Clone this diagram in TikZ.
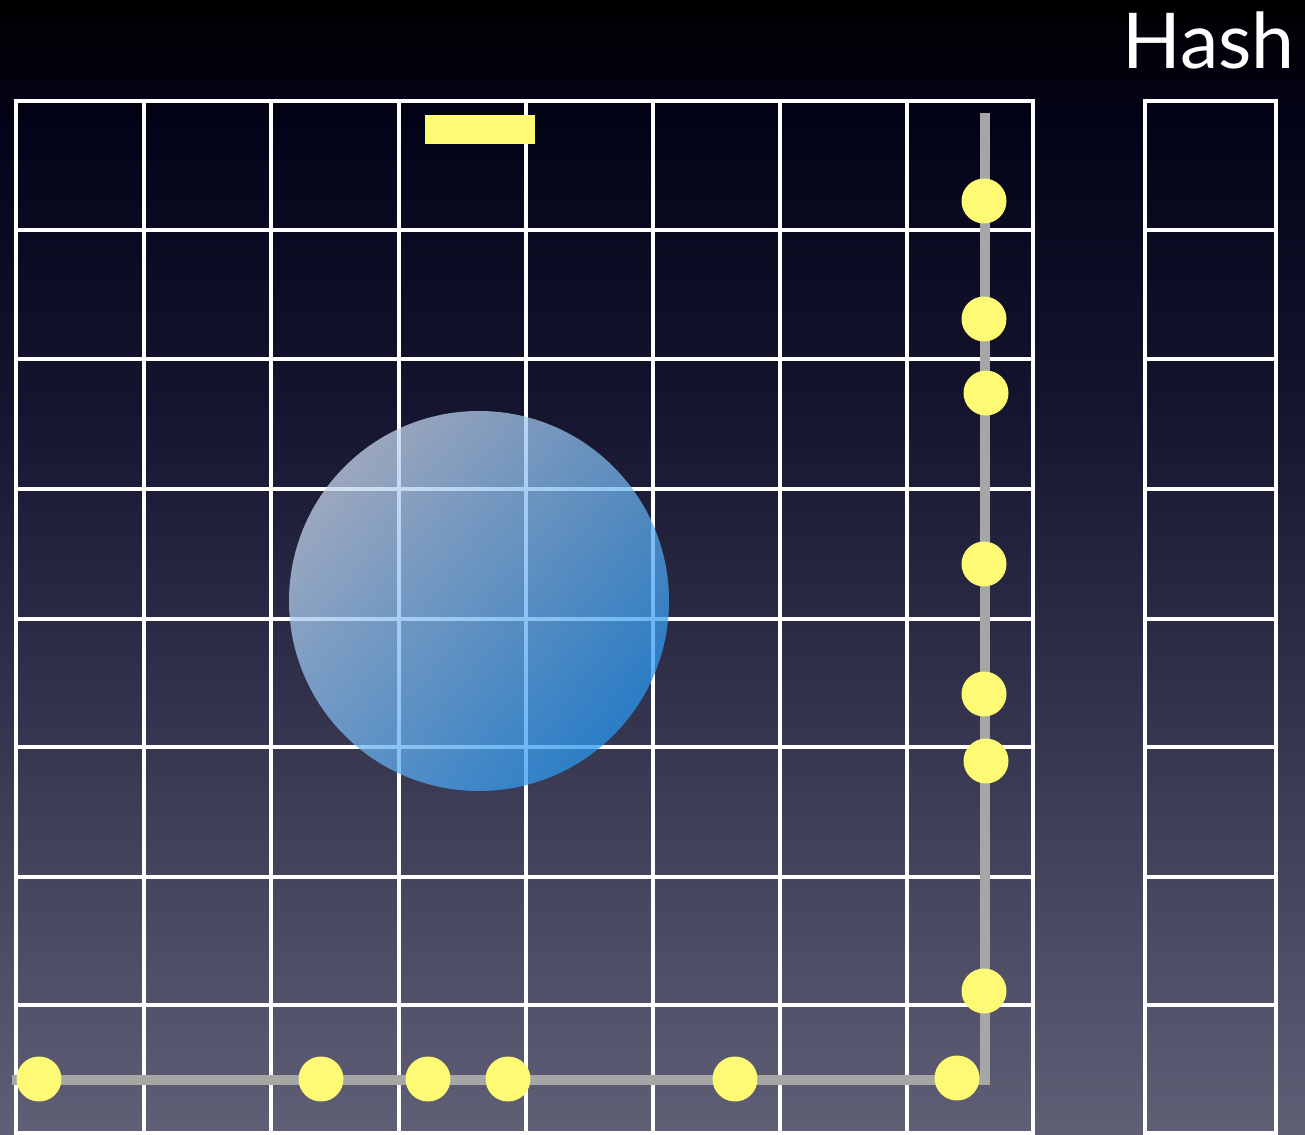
\documentclass[tikz,border=0pt]{standalone}
\usepackage{fontspec}
\newfontfamily\hashfont{Lato}
\definecolor{bgA}{RGB}{0,0,0}
\definecolor{bgB}{RGB}{3,3,24}
\definecolor{bgC}{RGB}{20,20,46}
\definecolor{bgD}{RGB}{50,50,76}
\definecolor{bgE}{RGB}{95,95,118}
\definecolor{dotyellow}{RGB}{255,250,115}
\definecolor{pathgray}{RGB}{166,166,166}
\definecolor{ballLight}{RGB}{199,214,236}
\definecolor{ballDark}{RGB}{40,150,238}
\tikzset{
  gridline/.style={draw=white, line width=4.5pt},
  dot/.style={circle, fill=dotyellow, minimum size=45pt, inner sep=0pt},
  trail/.style={draw=pathgray, line width=10pt, line join=miter}
}
\begin{document}
\begin{tikzpicture}[x=1pt, y=-1pt]
\useasboundingbox (0,0) rectangle (1305,1134);
% background gradient
\shade[top color=bgA, bottom color=bgB] (0,0) rectangle (1305,121);
\shade[top color=bgB, bottom color=bgC] (0,120) rectangle (1305,401);
\shade[top color=bgC, bottom color=bgD] (0,400) rectangle (1305,701);
\shade[top color=bgD, bottom color=bgE] (0,700) rectangle (1305,1134);
% main grid
\foreach \x in {16,144,271,399,526,653,780,907,1033}
  \draw[gridline] (\x,99) -- (\x,1140);
\foreach \y in {101,230,359,489,619,747,877,1005,1133}
  \draw[gridline] (13.75,\y) -- (1035.25,\y);
% hash column
\foreach \x in {1145,1276}
  \draw[gridline] (\x,99) -- (\x,1140);
\foreach \y in {101,230,359,489,619,747,877,1005,1133}
  \draw[gridline] (1142.75,\y) -- (1278.25,\y);
% ball
\shade[top color=ballLight, bottom color=ballDark, shading angle=45, fill opacity=0.75]
  (479,601) circle[radius=190];
% trail
\coordinate (start) at (12,1080);
\coordinate (corner) at (985,1080);
\coordinate (finish) at (985,113);
\draw[trail] (start) -- (corner) -- (finish);
% dots
\node[dot] (b1) at (39,1079) {};
\node[dot] (b2) at (321,1079) {};
\node[dot] (b3) at (428,1079) {};
\node[dot] (b4) at (508,1079) {};
\node[dot] (b5) at (735,1079) {};
\node[dot] (b6) at (957,1078) {};
\node[dot] (v1) at (984,201) {};
\node[dot] (v2) at (984,319) {};
\node[dot] (v3) at (986,393) {};
\node[dot] (v4) at (984,564) {};
\node[dot] (v5) at (984,694) {};
\node[dot] (v6) at (986,761) {};
\node[dot] (v7) at (984,991) {};
% paddle
\node[fill=dotyellow, minimum width=110pt, minimum height=29pt, inner sep=0pt] (paddle) at (480,129.5) {};
% label
\node[anchor=base east, inner sep=0pt, text=white, font=\hashfont\fontsize{77}{77}\selectfont] (hash) at (1295,69) {Hash};
\end{tikzpicture}
\end{document}
